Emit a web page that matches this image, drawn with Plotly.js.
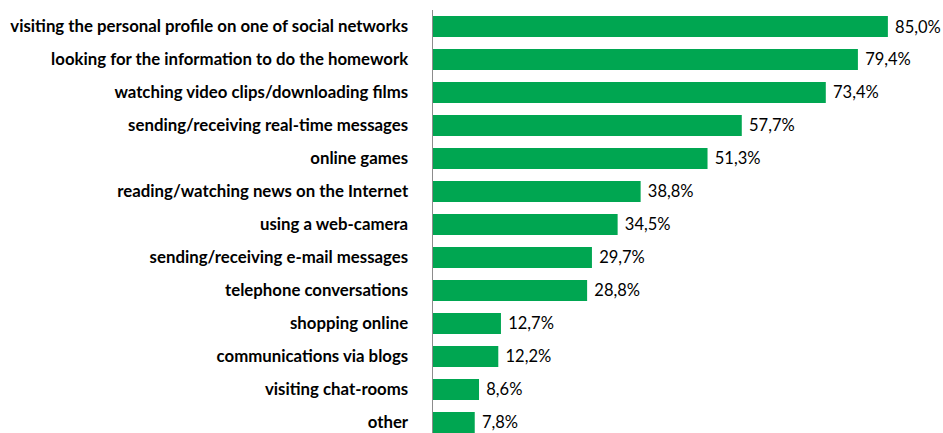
<!DOCTYPE html>
<html><head><meta charset="utf-8">
<script src="https://cdn.plot.ly/plotly-3.0.1.min.js"></script>
<style>html,body{margin:0;padding:0;background:#fff}#chart{width:943px;height:433px}</style>
</head><body><div id="chart"></div>
<script>
const categories = [
  "visiting the personal profile on one of social networks",
  "looking for the information to do the homework",
  "watching video clips/downloading films",
  "sending/receiving real-time messages",
  "online games",
  "reading/watching news on the Internet",
  "using a web-camera",
  "sending/receiving e-mail messages",
  "telephone conversations",
  "shopping online",
  "communications via blogs",
  "visiting chat-rooms",
  "other"
];
const values = [85.0, 79.4, 73.4, 57.7, 51.3, 38.8, 34.5, 29.7, 28.8, 12.7, 12.2, 8.6, 7.8];
const labels = values.map(v => " " + v.toFixed(1).replace('.', ',') + "%");

const trace = {
  type: 'bar', orientation: 'h',
  x: values, y: categories,
  text: labels, textposition: 'outside', cliponaxis: false,
  textfont: {family: 'Lato, "Open Sans", sans-serif', size: 16.5, color: '#000'},
  marker: {color: '#00A651', line: {width: 0}},
  hoverinfo: 'none'
};
const layout = {
  width: 943, height: 433,
  margin: {l: 433, r: 0, t: 10, b: 0},
  paper_bgcolor: '#fff', plot_bgcolor: '#fff',
  bargap: 0.36, showlegend: false,
  xaxis: {range: [0, 95.3], showgrid: false, zeroline: false, showticklabels: false, ticks: '', showline: false, fixedrange: true},
  yaxis: {type: 'category', range: [12.32, -0.5], showgrid: false, zeroline: false,
    showline: true, linecolor: '#8c8c8c', linewidth: 1.5, ticks: '', ticklabelstandoff: 20,
    tickfont: {family: 'Lato, "Open Sans", sans-serif', size: 16.8, color: '#000', weight: 'bold'}, fixedrange: true}
};
Plotly.newPlot('chart', [trace], layout, {displayModeBar: false, staticPlot: true});
</script></body></html>
